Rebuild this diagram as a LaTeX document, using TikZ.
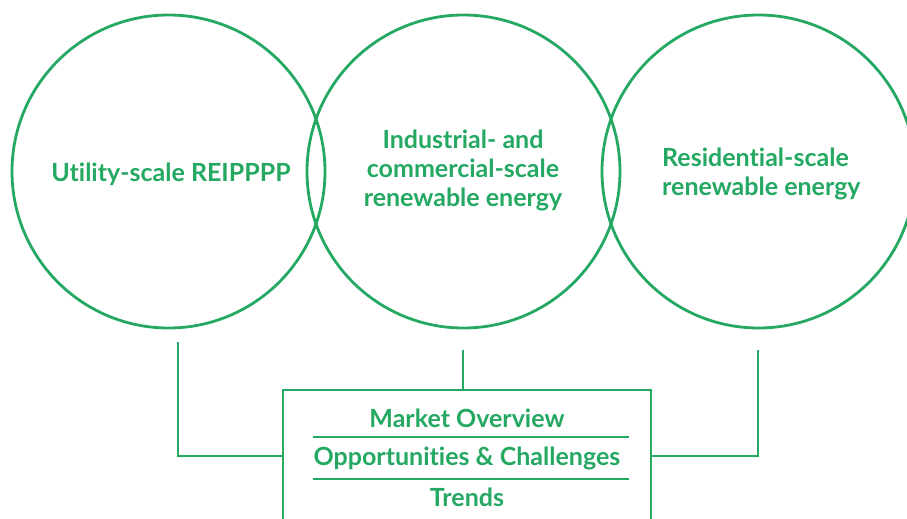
\documentclass[tikz,border=0pt]{standalone}
\usepackage{fontspec}
\setmainfont{Lato}[Ligatures=NoCommon]
\definecolor{eg}{RGB}{36,168,98}
\begin{document}
\begin{tikzpicture}[x=1pt,y=-1pt,
  ring/.style={draw=eg,line width=2.8pt,circle,minimum size=313pt,inner sep=0pt},
  lbl/.style={text=eg,font=\fontsize{25}{29}\selectfont\bfseries,inner sep=0pt},
  conn/.style={draw=eg,line width=2.6pt},
  boxst/.style={draw=eg,line width=2.6pt,rectangle,minimum width=368pt,minimum height=132pt,inner sep=0pt}]
\useasboundingbox (0,0) rectangle (907,519);
\clip (0,0) rectangle (907,519);
\node[ring] (c1) at (168.5,171.5) {};
\node[ring] (c2) at (463.5,171.5) {};
\node[ring] (c3) at (758.5,171.5) {};
\node[lbl] (t1) at (171,174) {Utility-scale REIPPPP};
\node[lbl,align=center] (t2) at (463,170) {Industrial- and\\commercial-scale\\renewable energy};
\node[lbl,align=left,anchor=west] (t3) at (662,174) {Residential-scale\\renewable energy};
\node[boxst] (box) at (467,456) {};
\node[lbl] (m1) at (467,418) {Market Overview};
\node[lbl] (m2) at (467,458) {Opportunities \& Challenges};
\node[lbl] (m3) at (467,497) {Trends};
\coordinate (s1a) at (313,437); \coordinate (s1b) at (629,437);
\coordinate (s2a) at (313,479); \coordinate (s2b) at (629,479);
\draw[conn] (s1a) -- (s1b);
\draw[conn] (s2a) -- (s2b);
\coordinate (p1) at (178,342);
\coordinate (p2) at (463,350);
\coordinate (p3) at (758,350);
\draw[conn] (p1) |- (box.west);
\draw[conn] (p2) -- (p2 |- box.north);
\draw[conn] (p3) |- (box.east);
\end{tikzpicture}
\end{document}
